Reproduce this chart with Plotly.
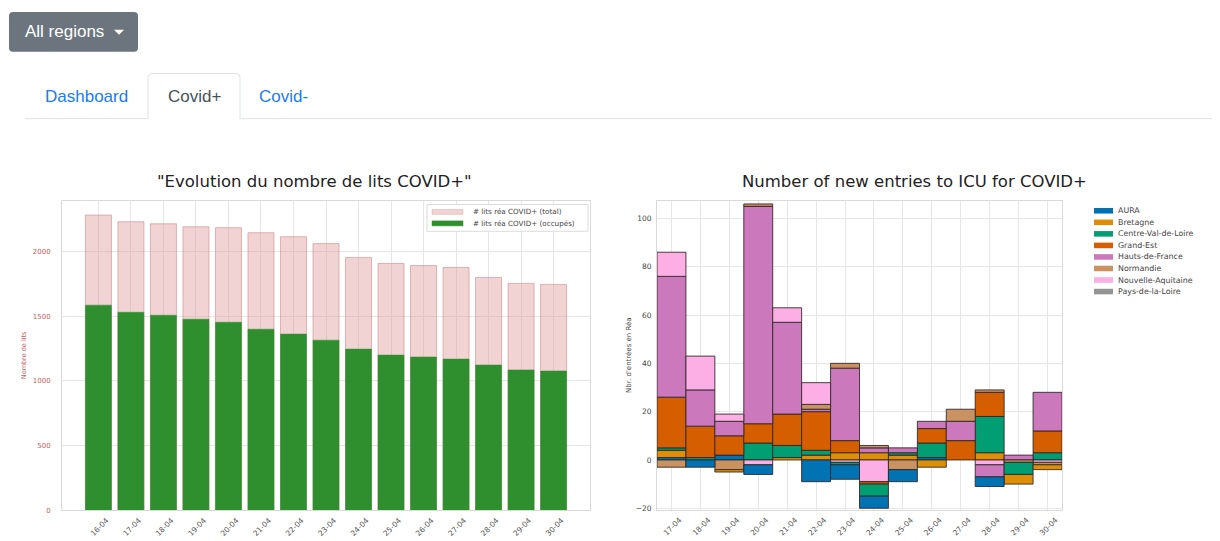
import plotly.graph_objects as go

# page has an 8px body margin: the figure occupies the window minus that offset
OFF = 8
W, H = 1220 - OFF, 541 - OFF

# ---------------- data: left chart (ICU beds) ----------------
dates_left = ['16-04', '17-04', '18-04', '19-04', '20-04', '21-04', '22-04', '23-04',
              '24-04', '25-04', '26-04', '27-04', '28-04', '29-04', '30-04']
beds_total = [2283, 2231, 2215, 2192, 2185, 2146, 2115, 2062, 1955, 1908, 1892, 1877, 1800, 1754, 1746]
beds_occupied = [1586, 1531, 1508, 1477, 1454, 1400, 1362, 1315, 1246, 1200, 1185, 1169, 1123, 1085, 1077]
left_yticks = [0, 500, 1000, 1500, 2000]

# ---------------- data: right chart (new ICU entries) ----------------
dates_right = ['17-04', '18-04', '19-04', '20-04', '21-04', '22-04', '23-04',
               '24-04', '25-04', '26-04', '27-04', '28-04', '29-04', '30-04']
aura = [1, -3, 2, -4, 0, -9, -6, -5, -5, 1, 0, -4, 0, 0]
bretagne = [3, 0, -1, 0, 1, 2, 3, 3, 2, -3, 0, 3, -4, -2]
centre_val_de_loire = [1, 1, 0, 7, 5, 2, -1, -5, 1, 6, 0, 15, -5, 3]
grand_est = [21, 13, 8, 8, 13, 16, 5, -1, 0, 6, 8, 10, 0, 9]
hauts_de_france = [50, 15, 6, 90, 38, 1, 30, 2, 2, 3, 8, -5, 2, 16]
normandie = [-3, 0, -4, 1, 0, 2, 2, 1, -4, 0, 5, 1, -1, -1]
nouvelle_aquitaine = [10, 14, 3, -2, 6, 9, -1, -9, 0, 0, 0, -2, 0, -1]
pays_de_la_loire = [0, 0, 0, 0, 0, 0, 0, 0, 0, 0, 0, 0, 0, 0]
right_yticks = [-20, 0, 20, 40, 60, 80, 100]

regions = ['AURA', 'Bretagne', 'Centre-Val-de-Loire', 'Grand-Est', 'Hauts-de-France',
           'Normandie', 'Nouvelle-Aquitaine', 'Pays-de-la-Loire']
region_values = [aura, bretagne, centre_val_de_loire, grand_est, hauts_de_france,
                 normandie, nouvelle_aquitaine, pays_de_la_loire]
region_colors = ['#0173b2', '#de8f05', '#029e73', '#d55e00', '#cc78bc',
                 '#ca9161', '#fbafe4', '#949494']

# ---------------- helpers (layout only, window pixel -> paper) ----------------
def px(x):
    return (x - OFF) / W

def py(y):
    return 1 - (y - OFF) / H

CHART_FONT = 'DejaVu Sans'
UI_FONT = 'Liberation Sans'
PINK = 'rgba(222,150,150,0.42)'
PINK_EDGE = 'rgba(205,130,130,0.55)'
GREEN = '#2f8f2f'
EDGE = 'rgba(45,35,35,0.85)'

fig = go.Figure()

# left chart: overlayed bars (base set -> drawn in overlay)
fig.add_trace(go.Bar(x=dates_left, y=beds_total, base=0, width=0.8,
                     name='# lits réa COVID+ (total)',
                     marker=dict(color=PINK, line=dict(color=PINK_EDGE, width=1)),
                     xaxis='x', yaxis='y'))
fig.add_trace(go.Bar(x=dates_left, y=beds_occupied, base=0, width=0.8,
                     name='# lits réa COVID+ (occupés)',
                     marker=dict(color=GREEN, line=dict(color=GREEN, width=0.5)),
                     xaxis='x', yaxis='y'))

# right chart: positives stacked in column order, negatives stacked in reverse order
for name, vals, col in zip(regions, region_values, region_colors):
    fig.add_trace(go.Bar(x=dates_right, y=[v if v > 0 else None for v in vals], width=1,
                         name=name, marker=dict(color=col, line=dict(color=EDGE, width=1)),
                         xaxis='x2', yaxis='y2'))
for name, vals, col in reversed(list(zip(regions, region_values, region_colors))):
    fig.add_trace(go.Bar(x=dates_right, y=[v if v < 0 else None for v in vals], width=1,
                         name=name, marker=dict(color=col, line=dict(color=EDGE, width=1)),
                         xaxis='x2', yaxis='y2'))

GRID = '#e6e6e6'
FRAME = '#d9d9d9'

fig.update_layout(
    width=W, height=H, margin=dict(l=0, r=0, t=0, b=0),
    paper_bgcolor='white', plot_bgcolor='white',
    barmode='relative', showlegend=False,
    font=dict(family=CHART_FONT, color='#444'),
    xaxis=dict(domain=[px(62), px(590)], anchor='y', type='category',
               range=[-1.12, 15.12], showgrid=True, gridcolor=GRID, gridwidth=1,
               showline=True, linecolor=FRAME, mirror=True, ticks='',
               tickangle=-45, tickfont=dict(size=7.5, color='#555', family=CHART_FONT),
               ticklabelshift=8, ticklabelstandoff=2, zeroline=False),
    yaxis=dict(domain=[py(514), py(202)], anchor='x', range=[0, 2395],
               tickvals=left_yticks, showgrid=True, gridcolor=GRID,
               showline=True, linecolor=FRAME, mirror=True, ticks='',
               tickfont=dict(size=7, color='#c46060', family=CHART_FONT),
               ticklabelstandoff=9, zeroline=False,
               title=dict(text='Nombre de lits', standoff=5,
                          font=dict(size=6.5, color='#c46060', family=CHART_FONT))),
    xaxis2=dict(domain=[px(657), px(1062)], anchor='y2', type='category',
                range=[-0.5, 13.5], showgrid=True, gridcolor=GRID,
                showline=True, linecolor=FRAME, mirror=True, ticks='',
                tickangle=-45, tickfont=dict(size=7.5, color='#555', family=CHART_FONT),
                ticklabelshift=8, ticklabelstandoff=2, zeroline=False),
    yaxis2=dict(domain=[py(513.5), py(202)], anchor='x2', range=[-20.6, 107.4],
                tickvals=right_yticks, showgrid=True, gridcolor=GRID,
                showline=True, linecolor=FRAME, mirror=True, ticks='',
                tickfont=dict(size=7.5, color='#444', family=CHART_FONT),
                ticklabelstandoff=3, zeroline=False,
                title=dict(text="Nbr. d'entrées en Réa", standoff=3,
                           font=dict(size=7, color='#444', family=CHART_FONT))),
)

shapes = []
annotations = []

# ---------------- page UI: dropdown button ----------------
def rounded_rect(x0, y0, x1, y1, r):
    return (f"M {px(x0 + r)},{py(y0)} L {px(x1 - r)},{py(y0)} Q {px(x1)},{py(y0)} {px(x1)},{py(y0 + r)} "
            f"L {px(x1)},{py(y1 - r)} Q {px(x1)},{py(y1)} {px(x1 - r)},{py(y1)} "
            f"L {px(x0 + r)},{py(y1)} Q {px(x0)},{py(y1)} {px(x0)},{py(y1 - r)} "
            f"L {px(x0)},{py(y0 + r)} Q {px(x0)},{py(y0)} {px(x0 + r)},{py(y0)} Z")

shapes.append(dict(type='path', xref='paper', yref='paper', path=rounded_rect(9, 12, 138, 52, 4),
                   fillcolor='#6c757d', line=dict(width=0), layer='above'))
shapes.append(dict(type='path', xref='paper', yref='paper',
                   path=f"M {px(114)},{py(30)} L {px(124)},{py(30)} L {px(119)},{py(35)} Z",
                   fillcolor='white', line=dict(width=0), layer='above'))
annotations.append(dict(text='All regions', xref='paper', yref='paper', x=px(23), y=py(32),
                        xanchor='left', yanchor='middle', showarrow=False,
                        font=dict(family=UI_FONT, size=17, color='white')))

# ---------------- page UI: tabs ----------------
TAB_LINE = '#dee2e6'
shapes.append(dict(type='line', xref='paper', yref='paper', x0=px(25), x1=px(148), y0=py(119.5), y1=py(119.5),
                   line=dict(color=TAB_LINE, width=1)))
shapes.append(dict(type='line', xref='paper', yref='paper', x0=px(240), x1=px(1220), y0=py(119.5), y1=py(119.5),
                   line=dict(color=TAB_LINE, width=1)))
shapes.append(dict(type='path', xref='paper', yref='paper',
                   path=(f"M {px(148)},{py(120)} L {px(148)},{py(78)} Q {px(148)},{py(74)} {px(152)},{py(74)} "
                         f"L {px(236)},{py(74)} Q {px(240)},{py(74)} {px(240)},{py(78)} L {px(240)},{py(120)}"),
                   fillcolor='rgba(0,0,0,0)', line=dict(color=TAB_LINE, width=1)))
for label, cx, col in [('Dashboard', 86, '#1a7cf0'), ('Covid+', 194, '#495057'), ('Covid-', 283, '#1a7cf0')]:
    annotations.append(dict(text=label, xref='paper', yref='paper', x=px(cx), y=py(97),
                            xanchor='center', yanchor='middle', showarrow=False,
                            font=dict(family=UI_FONT, size=17, color=col)))

# ---------------- chart titles ----------------
annotations.append(dict(text='"Evolution du nombre de lits COVID+"', xref='paper', yref='paper',
                        x=px(314), y=py(183), xanchor='center', yanchor='middle', showarrow=False,
                        font=dict(family=CHART_FONT, size=16.5, color='#222')))
annotations.append(dict(text='Number of new entries to ICU for COVID+', xref='paper', yref='paper',
                        x=px(914), y=py(183), xanchor='center', yanchor='middle', showarrow=False,
                        font=dict(family=CHART_FONT, size=16.5, color='#222')))

# ---------------- left legend (matplotlib style) ----------------
shapes.append(dict(type='rect', xref='paper', yref='paper', x0=px(427), x1=px(588), y0=py(206), y1=py(233),
                   fillcolor='rgba(255,255,255,0.85)', line=dict(color='#dcdcdc', width=1), layer='above'))
left_legend = [('# lits réa COVID+ (total)', PINK, PINK_EDGE), ('# lits réa COVID+ (occupés)', GREEN, GREEN)]
for i, (label, col, edge) in enumerate(left_legend):
    yc = 213.5 + i * 11.5
    shapes.append(dict(type='rect', xref='paper', yref='paper', x0=px(432), x1=px(463),
                       y0=py(yc - 2.5), y1=py(yc + 2.5), fillcolor=col,
                       line=dict(color=edge, width=0.5), layer='above'))
    annotations.append(dict(text=label, xref='paper', yref='paper', x=px(471), y=py(yc),
                            xanchor='left', yanchor='middle', showarrow=False,
                            font=dict(family=CHART_FONT, size=7.2, color='#444')))

# ---------------- right legend (outside, matplotlib style) ----------------
for i, (label, col) in enumerate(zip(regions, region_colors)):
    yc = 212.3 + i * 11.63
    shapes.append(dict(type='rect', xref='paper', yref='paper', x0=px(1094), x1=px(1113),
                       y0=py(yc - 2.8), y1=py(yc + 2.8), fillcolor=col,
                       line=dict(width=0), layer='above'))
    annotations.append(dict(text=label, xref='paper', yref='paper', x=px(1116), y=py(yc),
                            xanchor='left', yanchor='middle', showarrow=False,
                            font=dict(family=CHART_FONT, size=7.9, color='#444')))

fig.update_layout(shapes=shapes, annotations=annotations)

fig.write_html('out.html')
